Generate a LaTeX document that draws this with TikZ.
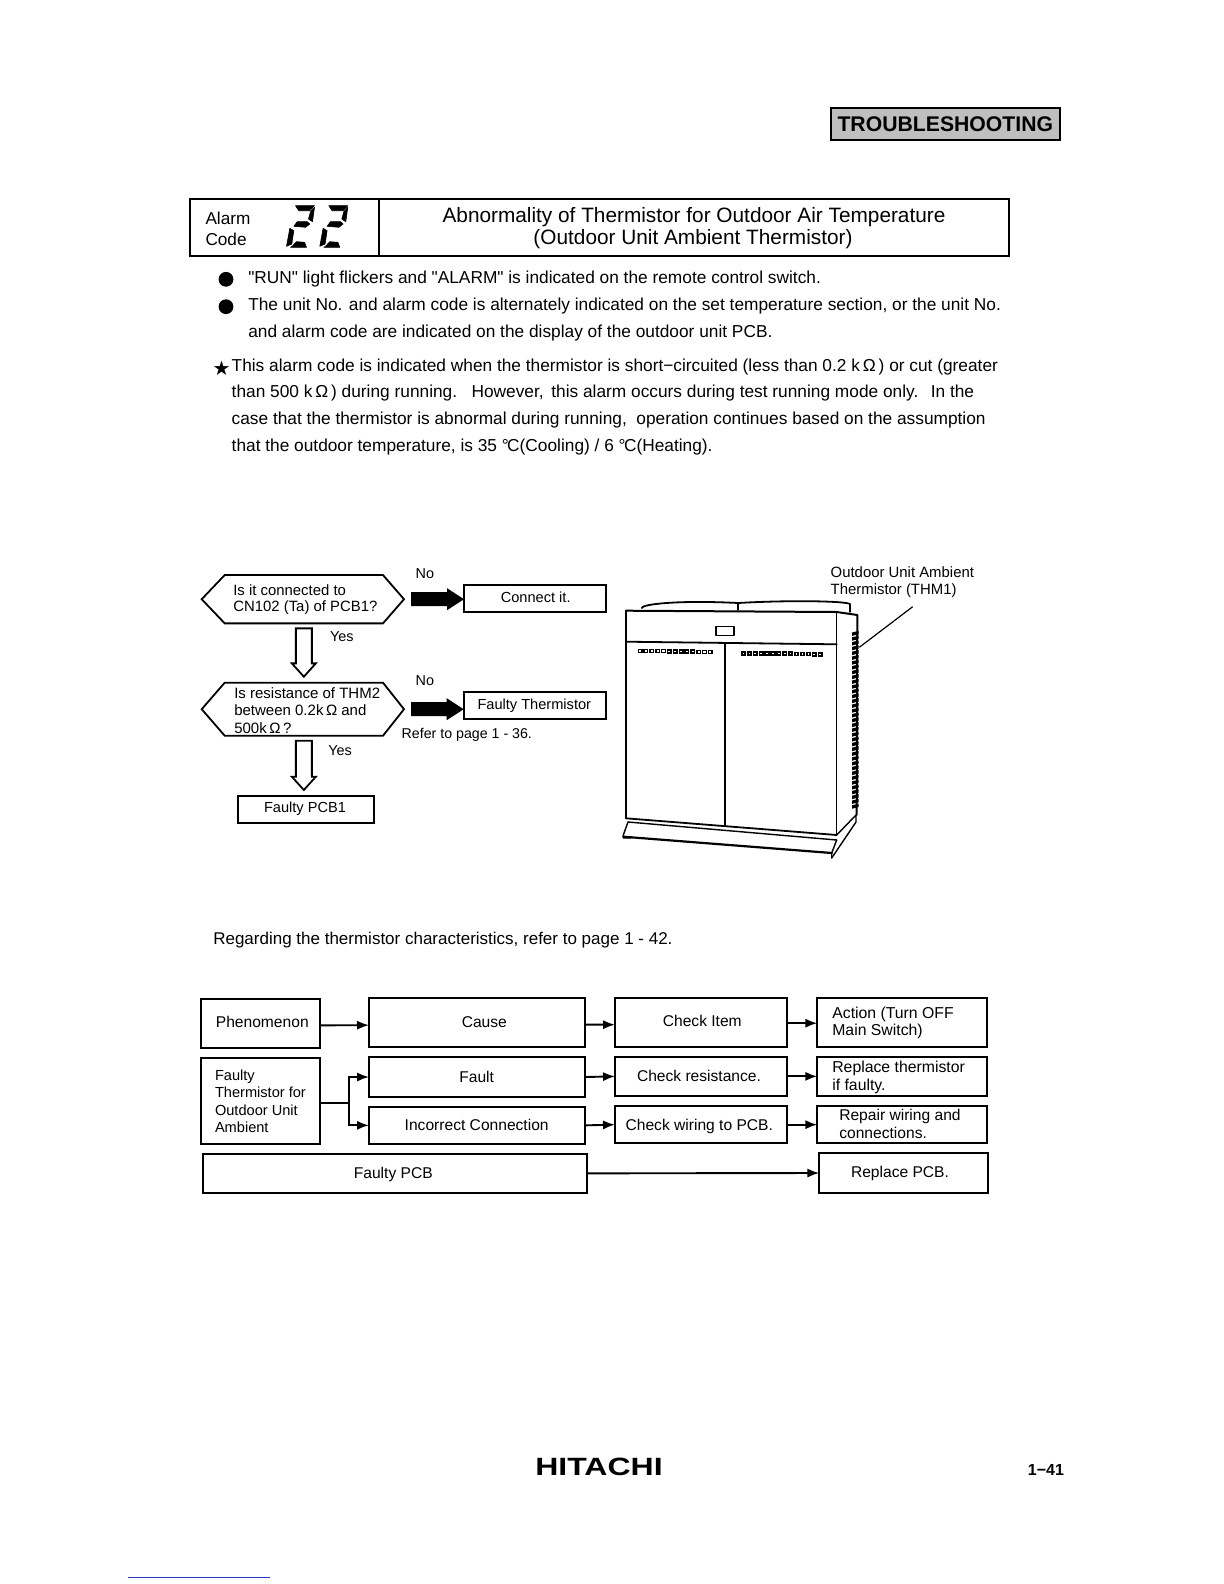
\documentclass[tikz,border=0pt]{standalone}
\usepackage{fontspec}
\setmainfont{Liberation Sans}
\newfontfamily\symfont{DejaVu Sans}
\newfontfamily\qfont{Liberation Sans}
\usetikzlibrary{calc,arrows.meta}
\newcommand{\fs}[2]{\fontsize{#1}{#2}\selectfont}
\newcommand{\dq}{{\qfont"}}
\tikzset{
  boxline/.style={line width=0.9pt,draw=black,line join=miter},
  flowbox/.style={boxline,rectangle,inner sep=0pt,outer sep=0pt,font=\fs{7.6}{8.8}},
  hexbase/.style={rectangle,inner sep=0pt,outer sep=0pt},
  txt/.style={inner sep=0pt,outer sep=0pt,anchor=west,align=left,text=black},
  body/.style={txt,font=\fs{8.65}{10}},
  small/.style={txt,font=\fs{7.2}{8.2}},
  tbl/.style={txt,font=\fs{7.8}{8.8}},
  conn/.style={line width=0.95pt,-{Latex[length=6pt,width=4.6pt]}},
  unitline/.style={line width=0.7pt,black,line join=round,line cap=round},
  dot/.style={circle,fill=black,inner sep=0pt,minimum size=7.4pt,outer sep=0pt},
}
\newcommand{\bbox}[5]{% name, x1, y1, x2, y2
  \node[flowbox,minimum width={(#4-#2)*0.5pt},minimum height={(#5-#3)*0.5pt}] (#1) at ({(#2+#4)/2},{(#3+#5)/2}) {};}
\newcommand{\blockarrow}[2]{% from node, to node
  \fill[black] ($(#1.east)+(7,-7)$) -- ($(#2.west |- #1.east)+(-17,-7)$) -- ($(#2.west |- #1.east)+(-17,-11)$)
   -- ($(#2.west |- #1.east)+(0,0)$) -- ($(#2.west |- #1.east)+(-17,11)$) -- ($(#2.west |- #1.east)+(-17,7)$) -- ($(#1.east)+(7,7)$) -- cycle;}
\newcommand{\hollow}[3]{% from, to, shoulder offset
  \draw[boxline,fill=white] ($(#1.south)+(-7,5)$) -- ($(#1.south)+(9,5)$) -- ($(#1.south)+(9,#3)$) -- ($(#1.south)+(13,#3)$)
   -- ($(#1.south |- #2.north)+(1,-6)$) -- ($(#1.south)+(-11,#3)$) -- ($(#1.south)+(-7,#3)$) -- cycle;}
\newcommand{\hexagon}[1]{%
  \draw[boxline] (#1.west) -- ($(#1.north west)+(23,0)$) -- ($(#1.north east)+(-21,0)$) -- (#1.east)
   -- ($(#1.south east)+(-21,0)$) -- ($(#1.south west)+(23,0)$) -- cycle;}
\newcommand{\segdigit}[2]{%
  \begin{scope}[shift={(#1,#2)},line width=0.3pt,line join=round]
   \filldraw (9,0.7) -- (28,0.7) -- (23.3,5.7) -- (12.3,5.7) -- cycle;
   \filldraw (24,6.7) -- (28,2.3) -- (26,16.7) -- (22,14) -- cycle;
   \filldraw (7.3,21.3) -- (10.7,16.7) -- (20.7,16.7) -- (23.3,19) -- (19,22.3) -- cycle;
   \filldraw (3.3,23.3) -- (7.3,25.7) -- (5.3,39) -- (0,41.3) -- cycle;
   \filldraw (5.7,41.3) -- (10,36.7) -- (18,37.3) -- (20,42.3) -- (4,42.3) -- cycle;
  \end{scope}}
\begin{document}
\begin{tikzpicture}[x=0.5pt,y=-0.5pt]
\useasboundingbox (0,0) rectangle (1224,1584);
\fill[white] (0,0) rectangle (1224,1584);

% header tab
\node[boxline,line width=1.1pt,fill=gray!50,inner sep=0pt,outer sep=0pt,minimum width=114.6pt,minimum height=15.8pt,
  font=\fs{10.6}{12}\bfseries] (tab) at (945.3,124.2) {TROUBLESHOOTING};

% title box
\bbox{alarmcell}{190}{199}{379.3}{256}
\bbox{titlecell}{379.3}{199}{1009}{256}
\node[txt,font=\fs{8.6}{10}] (alarmt) at (205.5,218.3) {Alarm};
\node[txt,font=\fs{8.6}{10}] (codet) at (205.5,239.3) {Code};
\segdigit{286.5}{205}
\segdigit{319.8}{205}
\node[inner sep=0pt,font=\fs{10.4}{12}] (t1) at (694,216.7) {Abnormality of Thermistor for Outdoor Air Temperature};
\node[inner sep=0pt,font=\fs{10.4}{12}] (t2) at (693,239.3) {(Outdoor Unit Ambient Thermistor)};

% bullets
\node[dot] (b1) at (226,279.3) {};
\node[dot] (b2) at (226,306.7) {};
\node[body] (l1) at (248.3,279.3) {\dq RUN\dq\ light flickers and \dq ALARM\dq\ is indicated on the remote control switch.};
\node[body] (l2) at (248.3,306) {The unit No. and alarm code is alternately indicated on the set temperature section, or the unit No.};
\node[body] (l3) at (248.3,333) {and alarm code are indicated on the display of the outdoor unit PCB.};
\node[txt,font=\symfont\fs{10}{11}] (st) at (212.5,368) {★};
\node[body] (l4) at (231.7,366.7) {This alarm code is indicated when the thermistor is short−circuited (less than 0.2 k\,Ω\,) or cut (greater};
\node[body] (l5) at (231.7,393.3) {than 500 k\,Ω\,) during running.\ \ \ However,\ \,this alarm occurs during test running mode only.\ \ \,In the};
\node[body] (l6) at (231.7,420) {case that the thermistor is abnormal during running,\ \ operation continues based on the assumption};
\node[body] (l7) at (231.7,446.7) {that the outdoor temperature, is 35 °\kern-0.8pt C(Cooling) / 6 °\kern-0.8pt C(Heating).};

% left flow
\node[hexbase,minimum width=101.15pt,minimum height=24.15pt] (q1) at (302.85,599.2) {};
\node[hexbase,minimum width=101.15pt,minimum height=26.5pt] (q2) at (302.85,709.2) {};
\hexagon{q1}
\hexagon{q2}
\node[small,font=\fs{7.45}{8}] (q1t) at (233.3,600) {Is it connected to\\CN102 (Ta) of PCB1?};
\node[small,font=\fs{7.5}{8.7}] (q2t) at (234.3,710.5) {Is resistance of THM2\\between 0.2k\,Ω\ and\\500k\,Ω\,?};
\bbox{a1}{464}{585}{606}{611.7}
\bbox{a2}{463.7}{692.3}{605.7}{719}
\bbox{a3}{238.3}{796}{374.3}{822.7}
\node[inner sep=0pt,font=\fs{7.3}{8}] (a1t) at (535.7,597.3) {Connect it.};
\node[inner sep=0pt,font=\fs{7.3}{8}] (a2t) at (534.3,706) {Faulty Thermistor};
\node[inner sep=0pt,font=\fs{7.3}{8}] (a3t) at (305,808.3) {Faulty PCB1};
\blockarrow{q1}{a1}
\blockarrow{q2}{a2}
\hollow{q1}{q2}{40}
\hollow{q2}{a3}{41}
\node[small] (no1) at (415.7,573.3) {No};
\node[small] (no2) at (415.7,680.7) {No};
\node[small] (yes1) at (330,636.7) {Yes};
\node[small] (yes2) at (328.3,750.7) {Yes};
\node[small,font=\fs{7.1}{8.2}] (ref) at (401.7,734.7) {Refer to page 1 - 36.};

% outdoor unit
\node[small,font=\fs{7.45}{8.2}] (unitlbl) at (830.7,582) {Outdoor Unit Ambient\\Thermistor (THM1)};
\coordinate (leadA) at (912.7,606.7);
\coordinate (leadB) at (859.3,647.3);
\draw[line width=0.6pt] (leadA) -- (leadB);
\begin{scope}[unitline]
 \draw[line width=1pt] (626,610.7) -- (836.7,612) -- (857.3,615) -- (856.7,815);
 \draw (626,610.7) -- (626,818.3);
 \draw (836.7,612) -- (836.7,835);
 \draw[line width=0.9pt] (641.7,608) .. controls (642,604) and (680,600) .. (738,603) .. controls (790,600) and (845,601) .. (850,604) -- (850,612);
 \draw (738,603) -- (738,610);
 \draw[line width=0.9pt] (626,641.7) -- (836.7,644.3);
 \draw (725,643) -- (725,826);
 \draw (716,626.7) rectangle (734,635.7);
 \draw[line width=0.9pt] (626,818.3) -- (836.7,835);
 \draw (628,822) -- (836.7,840);
 \draw[line width=1.1pt] (623.3,836.7) -- (831.7,853);
 \draw (628,822) -- (623.3,835) -- (623.3,838) -- (631,838);
 \draw (836.7,835) -- (856,815) -- (856,822) -- (831.7,858);
 \draw (836.7,840) -- (831.7,853) -- (831.7,858);
\end{scope}
\foreach \i in {0,...,12} \draw[line width=0.7pt] ({638.3+\i*5.85},{649.5+\i*0.07}) rectangle +(3.6,3);
\foreach \i in {0,...,13} \draw[line width=0.9pt] ({741.7+\i*5.9},{651.8+\i*0.07}) rectangle +(3.4,3);
\foreach \i in {0,...,36} \fill[black] ({852},{632.5+\i*4.8}) -- +(6.5,-1.6) -- +(6.5,1.8) -- +(0,3.4) -- cycle;

% regarding
\node[body,font=\fs{8.5}{10}] (reg) at (213.3,940) {Regarding the thermistor characteristics, refer to page 1 - 42.};

% table
\bbox{ph}{201}{999}{320}{1047.7}
\bbox{cause}{369}{998.3}{585}{1047}
\bbox{chk}{615}{997.7}{787.3}{1046.7}
\bbox{act}{817.3}{997.7}{986.7}{1046.7}
\bbox{ft}{201}{1057.7}{320}{1144.3}
\bbox{fault}{369}{1057.3}{585}{1096.7}
\bbox{inc}{369}{1106.7}{585}{1144}
\bbox{chr}{615}{1056.7}{787.3}{1096}
\bbox{chw}{615}{1106}{787.3}{1143.3}
\bbox{rpt}{817.3}{1056.7}{986.7}{1096}
\bbox{rpw}{817.3}{1106}{986.7}{1143.3}
\bbox{fpcb}{203.3}{1154}{586.7}{1192.7}
\bbox{rpcb}{819.3}{1153.3}{988.3}{1192.7}
\node[tbl,anchor=center] (pht) at (262.3,1022.3) {Phenomenon};
\node[tbl,anchor=center] (caut) at (484.3,1021.7) {Cause};
\node[tbl,anchor=center] (chkt) at (702.3,1021) {Check Item};
\node[tbl,font=\fs{7.9}{8.7}] (actt) at (832.3,1023) {Action (Turn OFF\\Main Switch)};
\node[tbl,font=\fs{7.3}{8.72}] (ftt) at (215,1101.2) {Faulty\\Thermistor for\\Outdoor Unit\\Ambient};
\node[tbl,anchor=center] (faut) at (476.7,1076.7) {Fault};
\node[tbl,anchor=center] (inct) at (476.7,1125) {Incorrect Connection};
\node[tbl,anchor=center] (chrt) at (699,1076) {Check resistance.};
\node[tbl,anchor=center] (chwt) at (699.3,1126) {Check wiring to PCB.};
\node[tbl,font=\fs{7.9}{8.9}] (rptt) at (832.3,1077.2) {Replace thermistor\\if faulty.};
\node[tbl,font=\fs{7.8}{9.1}] (rpwt) at (839.3,1124.2) {Repair wiring and\\connections.};
\node[tbl,anchor=center] (fpt) at (393.3,1174.3) {Faulty PCB};
\node[tbl,anchor=center] (rpt2) at (900,1173.7) {Replace PCB.};

\draw[conn] ($(ph.east)+(0,2)$) -- ($(cause.west)+(0,2.5)$);
\draw[conn] ($(cause.east)+(0,2)$) -- ($(chk.west)+(0,2.5)$);
\draw[conn] ($(chk.east)+(0,1)$) -- ($(act.west)+(0,1)$);
\draw[conn] (fault.east) -- (chr.west);
\draw[conn] (chr.east) -- (rpt.west);
\draw[conn] (inc.east) -- (chw.west);
\draw[conn] (chw.east) -- (rpw.west);
\draw[conn] (fpcb.east) -- (rpcb.west);
\coordinate (split) at (349,1102.7);
\draw[line width=0.95pt] (ft.east |- split) -- (split);
\draw[conn] (split) |- (fault.west);
\draw[conn] (split) |- (inc.west);

% footer
\node[inner sep=0pt,font=\fs{12.5}{14}\bfseries] (hit) at (599,1467) {\scalebox{1.28}[1]{HITACHI}};
\node[inner sep=0pt,font=\fs{8}{9}\bfseries] (pg) at (1046,1470) {1−41};
\coordinate (blueA) at (127.5,1577.5);
\coordinate (blueB) at (270,1577.5);
\draw[line width=0.6pt,color={rgb,255:red,40;green,60;blue,190}] (blueA) -- (blueB);
\end{tikzpicture}
\end{document}
